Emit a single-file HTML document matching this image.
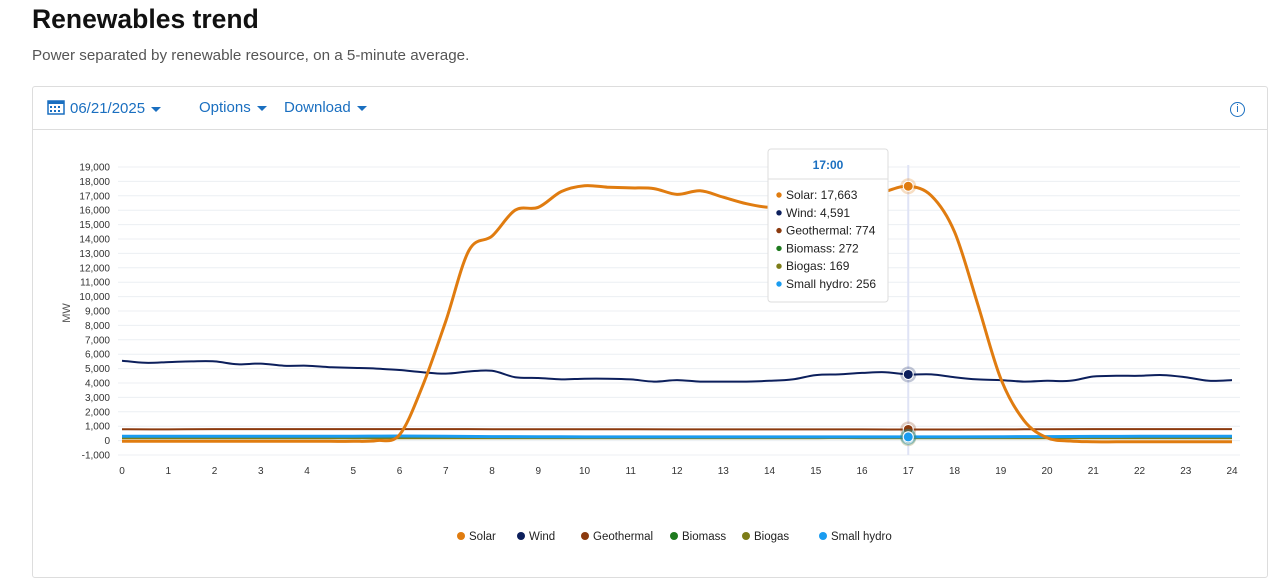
<!DOCTYPE html>
<html><head><meta charset="utf-8"><style>
body{margin:0;width:1280px;height:564px;overflow:hidden;background:#fff;font-family:"Liberation Sans",sans-serif;color:#222}
.title{position:absolute;left:32px;top:4px;font-size:26.5px;font-weight:bold;color:#111}
.sub{position:absolute;left:32px;top:47px;font-size:15.2px;color:#555}
.card{position:absolute;left:32px;top:86px;width:1234px;height:490px;border:1px solid #ddd;border-radius:3px}
.bar{position:absolute;left:0;top:0;width:100%;height:42px;border-bottom:1px solid #ddd}
.tb{position:absolute;top:12px;font-size:15px;color:#1a6fc0}
.tb span.c{display:inline-block;border-left:5px solid transparent;border-right:5px solid transparent;border-top:5px solid #1a6fc0;margin-left:6px;vertical-align:middle}
svg{position:absolute;left:0;top:0}
</style></head><body>
<div class="title">Renewables trend</div>
<div class="sub">Power separated by renewable resource, on a 5-minute average.</div>
<div class="card">
<div class="bar">
<div class="tb" style="left:14px"><svg width="18" height="16" style="position:relative;vertical-align:-2px;margin-right:5px" viewBox="0 0 18 16"><rect x="1" y="2" width="16" height="13" fill="none" stroke="#1a6fc0" stroke-width="1.5"/><rect x="1" y="2" width="16" height="3" fill="#1a6fc0"/><g fill="#1a6fc0"><rect x="3" y="7" width="2" height="2"/><rect x="7" y="7" width="2" height="2"/><rect x="11" y="7" width="2" height="2"/><rect x="3" y="11" width="2" height="2"/><rect x="7" y="11" width="2" height="2"/><rect x="11" y="11" width="2" height="2"/></g></svg>06/21/2025<span class="c"></span></div>
<div class="tb" style="left:166px">Options<span class="c"></span></div>
<div class="tb" style="left:251px">Download<span class="c"></span></div>
<div style="position:absolute;left:1197px;top:15px;width:13px;height:13px;border:1.5px solid #1a6fc0;border-radius:50%;color:#1a6fc0;font-size:11px;text-align:center;line-height:13px">i</div>
</div>
</div>
<svg id="chart" width="1280" height="564"></svg>
<script>
const hours=[];for(let i=0;i<=48;i++)hours.push(i/2);
const solar=[-50,-50,-50,-50,-50,-50,-50,-50,-50,-50,-50,0,400,3800,8300,13200,14200,16000,16200,17300,17700,17600,17550,17500,17100,17350,16900,16450,16200,16350,16500,16700,16900,17300,17663,17000,14500,9500,4300,1400,200,-30,-80,-80,-80,-80,-80,-80,-80];
const wind=[5550,5400,5450,5500,5500,5300,5350,5200,5200,5100,5050,5000,4900,4750,4650,4800,4850,4400,4350,4250,4300,4300,4250,4100,4200,4100,4100,4100,4150,4250,4550,4600,4700,4750,4591,4600,4400,4250,4200,4100,4150,4150,4450,4500,4500,4550,4400,4150,4200];
const hourly=[];for(let i=0;i<=24;i++)hourly.push(i);
const geothermal=[790,780,800,800,800,800,800,800,790,790,790,790,780,780,780,780,780,774,774,780,790,800,800,800,800];
const biomass=[280,280,280,280,280,280,280,275,275,275,275,275,275,272,272,272,272,272,272,272,272,275,275,275,275];
const biogas=[170,170,170,170,170,170,170,170,170,170,170,170,170,170,170,170,170,169,169,169,170,170,170,170,170];
const hydro=[300,300,300,300,300,300,320,300,280,270,260,260,260,256,256,256,256,256,260,270,280,290,300,300,300];
const yTicks=[-1000,0,1000,2000,3000,4000,5000,6000,7000,8000,9000,10000,11000,12000,13000,14000,15000,16000,17000,18000,19000];
const xTicks=hourly;
const legendNames=["Solar","Wind","Geothermal","Biomass","Biogas","Small hydro"];
const colors=["#e07c10","#0c1f5c","#8b3a0e","#1e7a1e","#7d7d18","#1a9cf0"];
const tipVals=["17,663","4,591","774","272","169","256"];
const tipNums=[17663,4591,774,272,169,256];
const tipHour=17;
const X=h=>122+h*46.25, Y=v=>440.6-v*0.0144;
const svg=document.getElementById('chart'),NS='http://www.w3.org/2000/svg';
function mk(t,a,p){const e=document.createElementNS(NS,t);for(const k in a)e.setAttribute(k,a[k]);(p||svg).appendChild(e);return e;}
yTicks.forEach(v=>{const l=mk('line',{x1:118,x2:1240,y1:Y(v),y2:Y(v),stroke:'#eceff3'});

const t=mk('text',{x:110,y:Y(v)+3.5,'text-anchor':'end','font-size':10,fill:'#333'});t.textContent=v.toLocaleString('en-US');
});
xTicks.forEach(h=>{const t=mk('text',{x:X(h),y:474,'text-anchor':'middle','font-size':10,fill:'#333'});t.textContent=h;
});
const yt=mk('text',{transform:'translate(70,313) rotate(-90)','text-anchor':'middle','font-size':11,fill:'#555'});yt.textContent='MW';

const cl=mk('line',{x1:X(tipHour),x2:X(tipHour),y1:165,y2:455,stroke:'#dfe3f5','stroke-width':2});

function smooth(xs,vs){const p=vs.map((v,i)=>[X(xs[i]),Y(v)]);let d='M'+p[0][0].toFixed(1)+' '+p[0][1].toFixed(1);
for(let i=0;i<p.length-1;i++){const p0=p[i-1]||p[i],p1=p[i],p2=p[i+1],p3=p[i+2]||p2;
const c1=[p1[0]+(p2[0]-p0[0])/6,p1[1]+(p2[1]-p0[1])/6],c2=[p2[0]-(p3[0]-p1[0])/6,p2[1]-(p3[1]-p1[1])/6];
d+=' C'+c1.map(n=>n.toFixed(1)).join(' ')+' '+c2.map(n=>n.toFixed(1)).join(' ')+' '+p2[0].toFixed(1)+' '+p2[1].toFixed(1);}return d;}
function path(xs,vs,c,w,name){
const p=mk('path',{d:smooth(xs,vs),fill:'none',stroke:c,'stroke-width':w,'stroke-linejoin':'round'});
}
path(hourly,biogas,colors[4],2,'biogas-line');path(hourly,biomass,colors[3],2,'biomass-line');
path(hourly,geothermal,colors[2],2,'geothermal-line');path(hourly,hydro,colors[5],3,'small-hydro-line');
path(hours,wind,colors[1],2,'wind-line');path(hours,solar,colors[0],3,'solar-line');
tipNums.forEach((v,i)=>{const g=mk('circle',{cx:X(tipHour),cy:Y(v),r:8,fill:colors[i],'fill-opacity':0.25});

const c=mk('circle',{cx:X(tipHour),cy:Y(v),r:5,fill:colors[i],stroke:'#fff','stroke-width':1});
});
const tb=mk('rect',{x:768,y:149,width:120,height:153,rx:3,fill:'#fff',stroke:'#ddd'});

mk('line',{x1:768,x2:888,y1:179,y2:179,stroke:'#ddd'});
const th=mk('text',{x:828,y:169,'text-anchor':'middle','font-size':12,'font-weight':'bold',fill:'#1a6fc0'});th.textContent='17:00';

legendNames.forEach((n,i)=>{const y=199+i*17.8;mk('circle',{cx:779,cy:y-4,r:2.7,fill:colors[i]});
const t=mk('text',{x:786,y:y,'font-size':12,fill:'#222'});t.textContent=n+': '+tipVals[i];
});
const lx=[461,521,585,674,746,823];
legendNames.forEach((n,i)=>{const g=mk('g',{});
mk('circle',{cx:lx[i],cy:536,r:4,fill:colors[i]},g);const t=mk('text',{x:lx[i]+8,y:540,'font-size':11.5,fill:'#222'},g);t.textContent=n;});
</script>
</body></html>
